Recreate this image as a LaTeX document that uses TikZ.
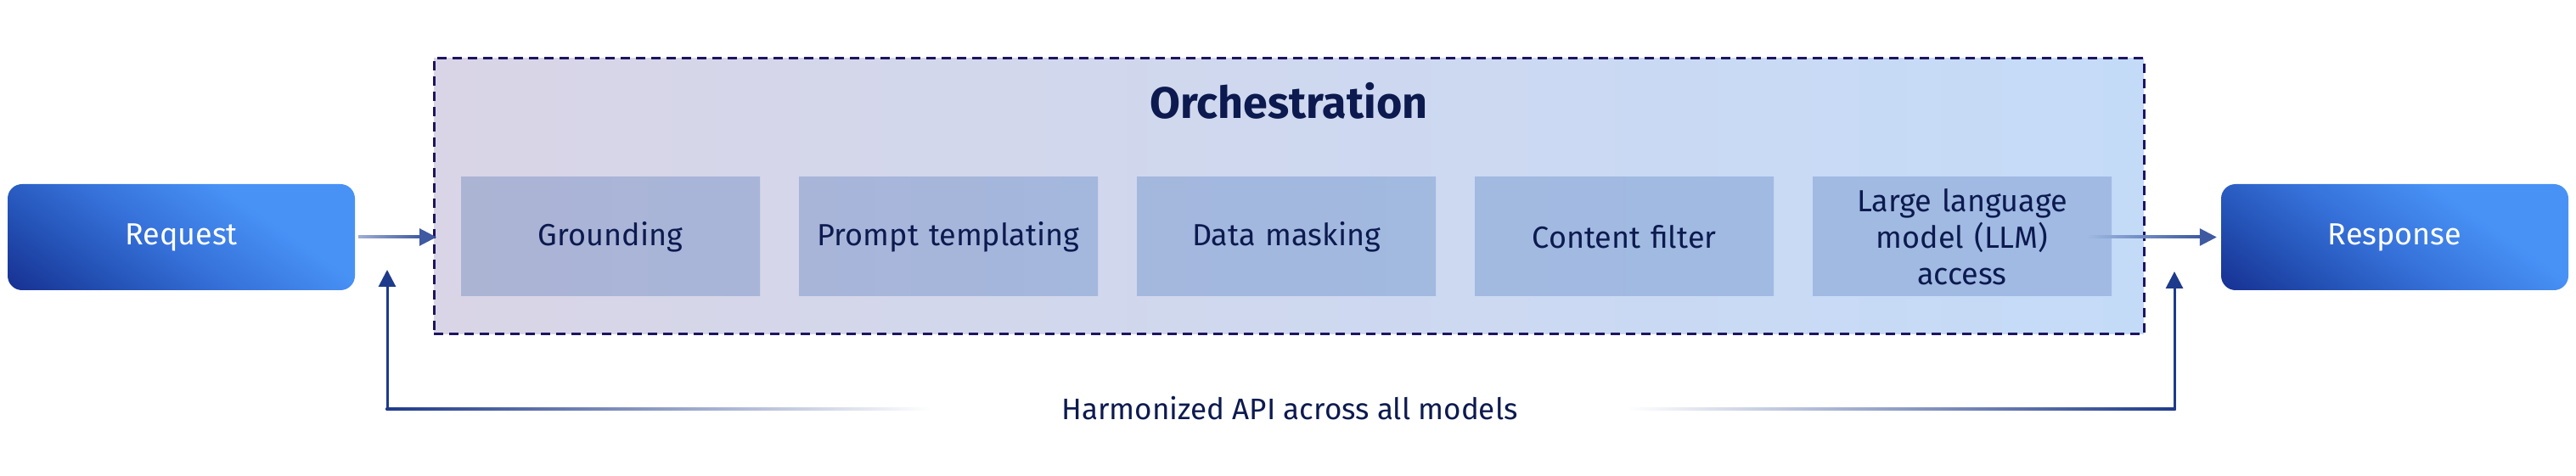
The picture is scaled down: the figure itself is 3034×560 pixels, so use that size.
\documentclass[tikz,border=0pt]{standalone}
\usepackage{fontspec}
\setmainfont{Fira Sans}
\usetikzlibrary{arrows.meta,calc}
\definecolor{txt}{HTML}{0C1A4F}
\definecolor{ioDark}{HTML}{14298A}
\definecolor{ioDM}{HTML}{2554B8}
\definecolor{ioMid}{HTML}{3570D8}
\definecolor{ioLight}{HTML}{4892F6}
\definecolor{bgL}{HTML}{D9D5E6}
\definecolor{bgM}{HTML}{CBDAF3}
\definecolor{bgR}{HTML}{C4DBF8}
\definecolor{dashcol}{HTML}{1D1560}
\definecolor{bxA}{HTML}{ACB4D4}
\definecolor{bxB}{HTML}{A8B5D9}
\definecolor{bxC}{HTML}{A4B7DD}
\definecolor{bxD}{HTML}{A2B9E0}
\definecolor{bxE}{HTML}{A1BAE2}
\definecolor{bxF}{HTML}{A0BAE3}
\definecolor{arrL}{HTML}{9EAED4}
\definecolor{arrR}{HTML}{3F5AA0}
\definecolor{vline}{HTML}{1E3A8A}
\pgfdeclareverticalshading{iograd}{100bp}{color(0bp)=(ioDark); color(12bp)=(ioDark); color(32bp)=(ioDM); color(46bp)=(ioMid); color(66bp)=(ioLight); color(100bp)=(ioLight)}
\begin{document}
\begin{tikzpicture}[x=1pt,y=1pt,
  iobox/.style={rounded corners=17pt, minimum width=409pt, minimum height=125pt,
    inner sep=0pt, text=white, font=\fontsize{36}{43}\selectfont,
    shading=iograd, shading angle=-35},
  orchbox/.style={minimum width=352pt, minimum height=140pt, inner sep=0pt,
    text width=330pt, align=center, text=txt, font=\fontsize{36}{43}\selectfont},
  tipstyle/.style={-{Triangle[length=20pt,width=20pt]}, line width=3pt},
  uparrow/.style={-{Triangle[length=20pt,width=20pt]}, line width=3pt, draw=vline}
]
\useasboundingbox (0,0) rectangle (3034,560);

% Orchestration frame
\node[draw=dashcol, line width=3pt, dash pattern=on 11pt off 7pt,
  minimum width=2014pt, minimum height=325pt, inner sep=0pt,
  left color=bgL, middle color=bgM, right color=bgR] (orch) at (1518,328.5) {};
\node[anchor=base, text=txt, font=\fontsize{52}{60}\selectfont\bfseries] (title) at (1518,420) {Orchestration};

% steps
\node[orchbox, left color=bxA, right color=bxB] (g1) at (719,281) {Grounding};
\node[orchbox, left color=bxB, right color=bxC] (g2) at (1117,281) {Prompt templating};
\node[orchbox, left color=bxC, right color=bxD] (g3) at (1515,281) {Data masking};
\node[orchbox, left color=bxD, right color=bxE] (g4) at (1913,281) {Content filter};
\node[orchbox, left color=bxE, right color=bxF] (g5) at (2311,281) {Large language\\model (LLM)\\access};

% request / response
\node[iobox] (req) at (213.5,280.5) {Request};
\node[iobox] (resp) at (2820.5,280.5) {Response};

% request -> orchestration
\coordinate (inpt) at (orch.west|-req.east);
\shade[left color=arrL, right color=arrR] ($(req.east)+(4,-1.5)$) rectangle ($(inpt)+(-14,1.5)$);
\draw[tipstyle, draw=arrR, fill=arrR] ($(inpt)+(-15,0)$) -- ($(inpt)+(4.5,0)$);

% LLM -> response
\shade[left color=bxF, right color=arrR] ($(g5.east)+(-30,-1.5)$) rectangle ($(resp.west)+(-24,1.5)$);
\draw[tipstyle, draw=arrR, fill=arrR] ($(resp.west)+(-25,0)$) -- ($(resp.west)+(-5,0)$);

% harmonized API
\node[anchor=base, text=txt, font=\fontsize{35}{42}\selectfont] (api) at (1519,66) {Harmonized API across all models};
\coordinate (lcorner) at (456,78);
\coordinate (ltip) at (456,242);
\coordinate (lfade) at (1096,78);
\coordinate (rcorner) at (2561,78);
\coordinate (rtip) at (2561,240);
\coordinate (rfade) at (1917,78);
\shade[left color=vline, right color=white] ($(lcorner)+(-1.5,-1.5)$) rectangle ($(lfade)+(0,1.5)$);
\shade[left color=white, right color=vline] ($(rfade)+(0,-1.5)$) rectangle ($(rcorner)+(1.5,1.5)$);
\draw[uparrow] (lcorner) -- (ltip);
\draw[uparrow] (rcorner) -- (rtip);
\end{tikzpicture}
\end{document}
